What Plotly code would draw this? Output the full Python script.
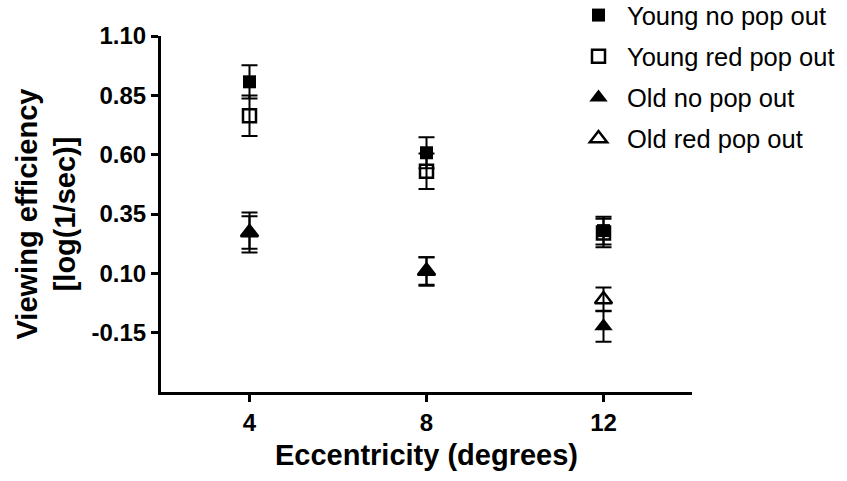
import plotly.graph_objects as go

eccentricity = [4, 8, 12]
series_names = ["Young no pop out", "Young red pop out", "Old no pop out", "Old red pop out"]
young_no = [0.907, 0.608, 0.280]
young_no_err = [0.07, 0.065, 0.058]
young_red = [0.764, 0.530, 0.270]
young_red_err = [0.085, 0.075, 0.060]
old_no = [0.272, 0.108, -0.123]
old_no_err = [0.084, 0.060, 0.065]
old_red = [0.272, 0.110, -0.010]
old_red_err = [0.068, 0.058, 0.050]
y_ticks = [-0.15, 0.10, 0.35, 0.60, 0.85, 1.10]
x_ticks = [4, 8, 12]

FONT = "Arial, 'Liberation Sans', sans-serif"

styles = {
    "Young no pop out": dict(symbol="square", size=13, color="black", line=dict(color="black", width=0)),
    "Young red pop out": dict(symbol="square-open", size=13, color="black", line=dict(color="black", width=2.5)),
    "Old no pop out": dict(symbol="triangle-up", size=16, color="black", line=dict(color="black", width=0)),
    "Old red pop out": dict(symbol="triangle-up-open", size=15, color="black", line=dict(color="black", width=2.5)),
}
data = {
    "Young no pop out": (young_no, young_no_err),
    "Young red pop out": (young_red, young_red_err),
    "Old no pop out": (old_no, old_no_err),
    "Old red pop out": (old_red, old_red_err),
}

fig = go.Figure()
draw_order = ["Old red pop out", "Old no pop out", "Young red pop out", "Young no pop out"]
for name in draw_order:
    vals, errs = data[name]
    fig.add_trace(go.Scatter(
        x=eccentricity, y=vals, mode="markers", name=name,
        legendgroup=name, legendrank=series_names.index(name) + 1,
        marker=styles[name],
        error_y=dict(type="data", array=errs, visible=True, color="black", thickness=2, width=8),
    ))

fig.update_layout(
    width=847, height=481,
    margin=dict(l=161, r=155, t=36, b=89, autoexpand=False),
    paper_bgcolor="white", plot_bgcolor="white",
    font=dict(family=FONT, color="black"),
    showlegend=True,
    legend=dict(
        x=(570 - 161) / 531, y=1 + 44 / 356, xref="paper", yref="paper", xanchor="left", yanchor="top",
        traceorder="grouped", tracegroupgap=5,
        font=dict(size=25.5, family=FONT, color="black"),
        bgcolor="rgba(0,0,0,0)", itemwidth=47,
    ),
    xaxis=dict(
        range=[2, 14], tickvals=x_ticks, ticktext=[str(v) for v in x_ticks],
        showline=True, linecolor="black", linewidth=3, ticks="outside", ticklen=7, tickwidth=2.5,
        tickcolor="black", showgrid=False, zeroline=False,
        tickfont=dict(size=24, family=FONT, color="black", weight="bold"),
        title=dict(text="Eccentricity (degrees)", standoff=10,
                   font=dict(size=29, family=FONT, color="black", weight="bold")),
    ),
    yaxis=dict(
        range=[-0.40, 1.10], tickvals=y_ticks, ticktext=[f"{v:.2f}" for v in y_ticks],
        showline=True, linecolor="black", linewidth=3, ticks="outside", ticklen=7, tickwidth=2.5,
        tickcolor="black", showgrid=False, zeroline=False,
        tickfont=dict(size=24, family=FONT, color="black", weight="bold"),
        title=dict(text="Viewing efficiency<br>[log(1/sec)]", standoff=8,
                   font=dict(size=29, family=FONT, color="black", weight="bold")),
    ),
)

fig.write_html("out.html")
